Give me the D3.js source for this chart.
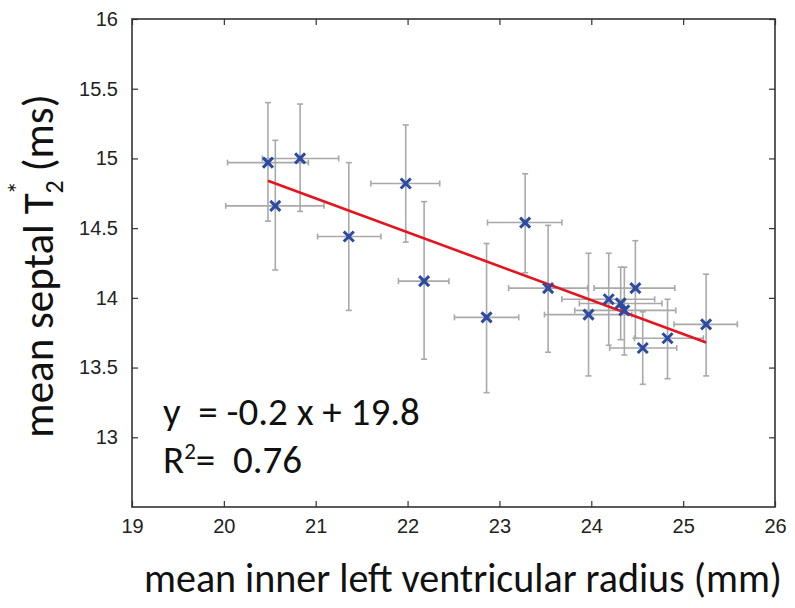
<!DOCTYPE html>
<html>
<head>
<meta charset="utf-8">
<script src="https://cdn.jsdelivr.net/npm/d3@7"></script>
<style>
  body { margin: 0; background: #fff; }
  .tick-label { font-family: "Liberation Sans", Arial, sans-serif; font-size: 20px; fill: #222; }
  .big-label { font-family: Carlito, Calibri, Lato, "Open Sans", sans-serif; fill: #111; }
</style>
</head>
<body>
<div id="chart"></div>
<script>
// Chart data
const radius   = [20.48, 20.56, 20.83, 21.36, 21.98, 22.18, 22.86, 23.28, 23.53, 23.97, 24.19, 24.32, 24.36, 24.48, 24.56, 24.83, 25.25];
const t2star   = [14.97, 14.66, 15.00, 14.44, 14.82, 14.12, 13.86, 14.54, 14.07, 13.88, 13.99, 13.96, 13.91, 14.07, 13.64, 13.71, 13.81];
const radiusLo = [20.04, 20.02, 20.42, 21.02, 21.60, 21.90, 22.51, 22.87, 23.10, 23.49, 23.68, 23.87, 23.82, 24.03, 24.20, 24.47, 24.90];
const radiusHi = [20.92, 21.09, 21.25, 21.71, 22.35, 22.45, 23.21, 23.68, 23.96, 24.44, 24.69, 24.77, 24.92, 24.91, 24.93, 25.22, 25.59];
const t2Lo     = [14.55, 14.20, 14.62, 13.91, 14.40, 13.56, 13.32, 14.18, 13.61, 13.44, 13.66, 13.70, 13.59, 13.71, 13.38, 13.42, 13.44];
const t2Hi     = [15.40, 15.13, 15.39, 14.97, 15.24, 14.69, 14.39, 14.89, 14.52, 14.32, 14.32, 14.22, 14.22, 14.41, 13.90, 13.99, 14.17];

// Regression line end points
const fitX = [20.48, 25.25];
const fitY = [14.84, 13.68];

const xTicks = [19, 20, 21, 22, 23, 24, 25, 26];
const yTicks = [13, 13.5, 14, 14.5, 15, 15.5, 16];
const yTickLabels = ["13", "13.5", "14", "14.5", "15", "15.5", "16"];

const width = 795;
const height = 608;
const margin = { top: 19, right: 20, bottom: 101, left: 132 };
const chartWidth = width - margin.left - margin.right;
const chartHeight = height - margin.top - margin.bottom;

const svg = d3.select("#chart").append("svg")
  .attr("width", width)
  .attr("height", height);

const g = svg.append("g")
  .attr("transform", `translate(${margin.left}, ${margin.top})`);

const x = d3.scaleLinear().domain([19, 26]).range([0, chartWidth]);
const y = d3.scaleLinear().domain([12.5, 16]).range([chartHeight, 0]);

const points = radius.map((r, i) => ({
  x: r, y: t2star[i], xlo: radiusLo[i], xhi: radiusHi[i], ylo: t2Lo[i], yhi: t2Hi[i]
}));

// error bars
const errColor = "#a9a9a9";
const cap = 3;
const eb = g.append("g").attr("stroke", errColor).attr("stroke-width", 1.6);
points.forEach((d) => {
  eb.append("line").attr("x1", x(d.x)).attr("x2", x(d.x)).attr("y1", y(d.ylo)).attr("y2", y(d.yhi));
  eb.append("line").attr("x1", x(d.x) - cap).attr("x2", x(d.x) + cap).attr("y1", y(d.ylo)).attr("y2", y(d.ylo));
  eb.append("line").attr("x1", x(d.x) - cap).attr("x2", x(d.x) + cap).attr("y1", y(d.yhi)).attr("y2", y(d.yhi));
  eb.append("line").attr("x1", x(d.xlo)).attr("x2", x(d.xhi)).attr("y1", y(d.y)).attr("y2", y(d.y));
  eb.append("line").attr("x1", x(d.xlo)).attr("x2", x(d.xlo)).attr("y1", y(d.y) - cap).attr("y2", y(d.y) + cap);
  eb.append("line").attr("x1", x(d.xhi)).attr("x2", x(d.xhi)).attr("y1", y(d.y) - cap).attr("y2", y(d.y) + cap);
});

// regression line
g.append("path")
  .datum(fitX.map((v, i) => [v, fitY[i]]))
  .attr("fill", "none")
  .attr("stroke", "#e4151f")
  .attr("stroke-width", 2.6)
  .attr("d", d3.line().x((d) => x(d[0])).y((d) => y(d[1])));

// x markers
const s = 5;
g.append("g").selectAll("path")
  .data(points)
  .enter()
  .append("path")
  .attr("d", (d) => {
    const cx = x(d.x), cy = y(d.y);
    return `M${cx - s},${cy - s}L${cx + s},${cy + s}M${cx - s},${cy + s}L${cx + s},${cy - s}`;
  })
  .attr("stroke", "#2b4aa0")
  .attr("stroke-width", 3)
  .attr("fill", "none");

// axes: box with inward ticks on all sides
const tickLen = 6;
const axisColor = "#333";
const axBottom = g.append("g").attr("transform", `translate(0, ${chartHeight})`)
  .call(d3.axisBottom(x).tickValues(xTicks).tickSizeInner(-tickLen).tickSizeOuter(0).tickPadding(12).tickFormat(d3.format("d")));
const axTop = g.append("g")
  .call(d3.axisTop(x).tickValues(xTicks).tickSizeInner(-tickLen).tickSizeOuter(0).tickFormat(""));
const axLeft = g.append("g")
  .call(d3.axisLeft(y).tickValues(yTicks).tickSizeInner(-tickLen).tickSizeOuter(0).tickPadding(14)
    .tickFormat((d, i) => yTickLabels[i]));
const axRight = g.append("g").attr("transform", `translate(${chartWidth}, 0)`)
  .call(d3.axisRight(y).tickValues(yTicks).tickSizeInner(-tickLen).tickSizeOuter(0).tickFormat(""));

[axBottom, axTop, axLeft, axRight].forEach((a) => {
  a.select(".domain").remove();
  a.selectAll("line").attr("stroke", axisColor).attr("stroke-width", 1.2);
  a.selectAll("text").attr("class", "tick-label").attr("fill", null);
});

g.append("rect")
  .attr("width", chartWidth)
  .attr("height", chartHeight)
  .attr("fill", "none")
  .attr("stroke", axisColor)
  .attr("stroke-width", 1.6);

// equation text (non-breaking spaces keep the wide gaps)
const eq = svg.append("g").attr("class", "big-label").style("font-size", "39px");
eq.append("text")
  .attr("x", 163)
  .attr("y", 425)
  .text("y\u00a0\u00a0= -0.2 x + 19.8");
const r2 = eq.append("text")
  .attr("x", 163)
  .attr("y", 473);
r2.append("tspan").text("R");
r2.append("tspan").attr("dy", -14).style("font-size", "23px").text("2");
r2.append("tspan").attr("dy", 14).text("=\u00a0\u00a00.76");

// axis labels
svg.append("text")
  .attr("class", "big-label")
  .attr("x", 463)
  .attr("y", 592)
  .attr("text-anchor", "middle")
  .style("font-size", "40px")
  .text("mean inner left ventricular radius (mm)");

const yl = svg.append("text")
  .attr("class", "big-label")
  .attr("transform", "translate(53, 266) rotate(-90)")
  .attr("text-anchor", "middle")
  .style("font-size", "43px");
yl.append("tspan").text("mean septal T");
yl.append("tspan").attr("dy", 10).style("font-size", "26px").text("2");
yl.append("tspan").attr("dx", -14).attr("dy", -36).style("font-size", "26px").text("*");
yl.append("tspan").attr("dy", 26).text(" (ms)");
</script>
</body>
</html>
